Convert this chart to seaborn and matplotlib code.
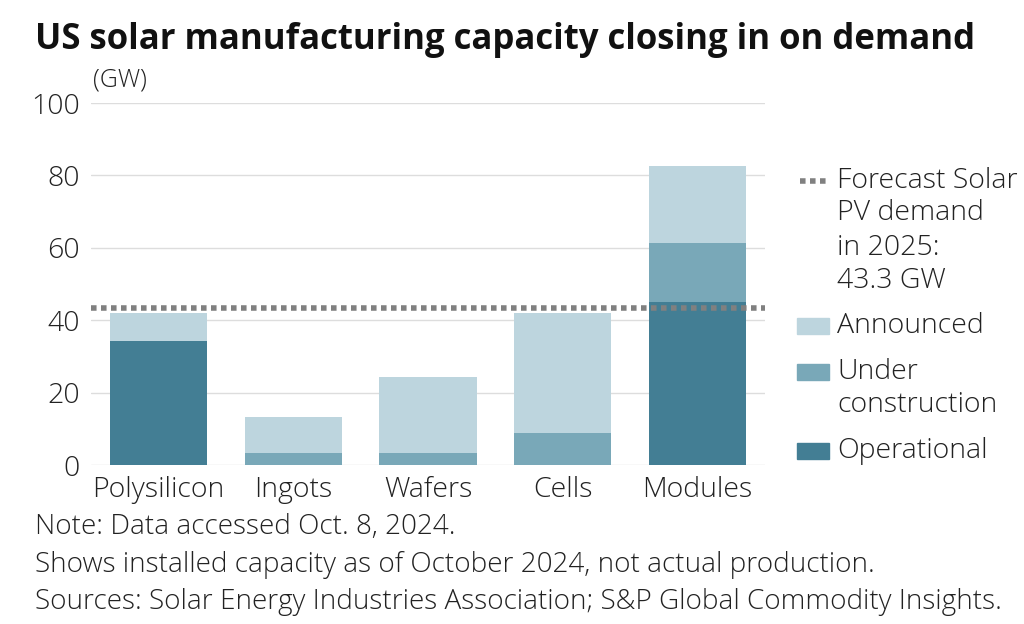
import pandas as pd
import matplotlib.pyplot as plt
import seaborn as sns
from matplotlib.patches import Rectangle
from matplotlib.lines import Line2D

# Data (GW)
categories = ["Polysilicon", "Ingots", "Wafers", "Cells", "Modules"]
operational = [34.2, 0.0, 0.0, 0.0, 45.0]
under_construction = [0.0, 3.3, 3.3, 8.8, 16.2]
announced = [7.9, 10.0, 21.0, 33.2, 21.5]
demand_2025 = 43.3

c_oper = "#437e94"
c_uc = "#79a8b8"
c_ann = "#bdd5de"
c_line = "#808080"
c_text = "#222222"

sns.set_style("white")
plt.rcParams['font.family'] = ['Open Sans', 'DejaVu Sans']
plt.rcParams['font.weight'] = 'light'

df = pd.DataFrame({"category": categories, "oper": operational,
                   "uc": under_construction, "ann": announced})
df["lvl2"] = df["oper"] + df["uc"]
df["total"] = df["lvl2"] + df["ann"]

W, H = 1024, 624
fig = plt.figure(figsize=(W / 100, H / 100), dpi=100)
ax = fig.add_axes([91 / W, 1 - 465 / H, (765 - 91) / W, (465 - 103) / H])

for col, c in [("total", c_ann), ("lvl2", c_uc), ("oper", c_oper)]:
    sns.barplot(data=df, x="category", y=col, color=c, width=0.72,
                saturation=1, linewidth=0, edgecolor="none", ax=ax)

ax.axhline(demand_2025, color=c_line, lw=4, ls=(0, (1, 0.8)))

ax.set_xlim(-0.5, 4.5)
ax.set_ylim(0, 100)
ax.set_yticks([0, 20, 40, 60, 80, 100])
ax.grid(axis="y", color="#dddddd", lw=1)
ax.set_axisbelow(True)
sns.despine(ax=ax, left=True, bottom=True)
ax.set_xlabel("")
ax.set_ylabel("")
ax.tick_params(axis="both", length=0, labelsize=20.5, colors=c_text)
ax.tick_params(axis="y", pad=8)
ax.tick_params(axis="x", pad=8)


def fy(y):
    return 1 - y / H


fig.text(35 / W, fy(40), "US solar manufacturing capacity closing in on demand",
         fontsize=25, fontweight="bold", color="#111111", va="center")
fig.text(93 / W, fy(80), "(GW)", fontsize=18, color=c_text, va="center")

# legend drawn by hand to follow the reference layout
lx = 837 / W
leg_lines = [(181, "Forecast Solar"), (213, "PV demand"), (248, "in 2025:"),
             (281, "43.3 GW"), (326, "Announced"), (372, "Under"),
             (405, "construction"), (451, "Operational")]
for y, t in leg_lines:
    fig.text(lx, fy(y), t, fontsize=20.5, color=c_text, va="center")
fig.add_artist(Line2D([800 / W, 828 / W], [fy(181), fy(181)], color=c_line,
                      lw=4, ls=(0, (1, 0.8)), transform=fig.transFigure))
for y, c in [(326, c_ann), (372, c_uc), (451, c_oper)]:
    fig.add_artist(Rectangle((797 / W, fy(y + 8)), 32 / W, 16 / H, color=c,
                             transform=fig.transFigure))

notes = ["Note: Data accessed Oct. 8, 2024.",
         "Shows installed capacity as of October 2024, not actual production.",
         "Sources: Solar Energy Industries Association; S&P Global Commodity Insights."]
for y, n in zip([527, 565, 602], notes):
    fig.text(35 / W, fy(y), n, fontsize=20.1, color=c_text, va="center")

fig.savefig("out.png", dpi=100)
